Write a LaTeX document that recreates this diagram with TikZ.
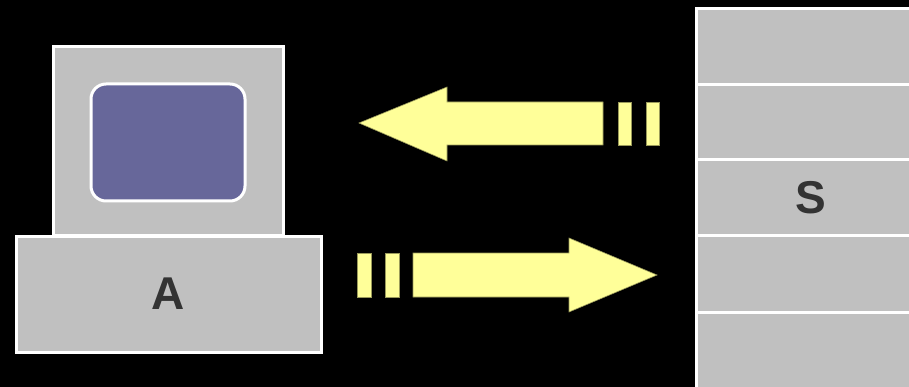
\documentclass[tikz,border=0pt]{standalone}
\usepackage{fontspec}
\setmainfont{Liberation Sans}
\definecolor{boxgrey}{HTML}{C0C0C0}
\definecolor{screenblue}{HTML}{67679A}
\definecolor{arrowyellow}{HTML}{FFFF99}
\definecolor{arrowedge}{HTML}{9A9A5A}
\definecolor{labeltext}{HTML}{333333}
\tikzset{
  greybox/.style={draw=white, line width=3pt, fill=boxgrey, inner sep=0pt},
  screenbox/.style={draw=white, line width=3pt, fill=screenblue, rounded corners=15pt, inner sep=0pt},
  biglabel/.style={font=\fontsize{46}{46}\selectfont\bfseries, text=labeltext},
  blockarrow/.style={fill=arrowyellow, draw=arrowedge, line width=0.6pt},
}
\begin{document}
\begin{tikzpicture}[x=1pt,y=-1pt]
\useasboundingbox (0,0) rectangle (909,387);
\fill[black] (0,0) rectangle (909,387);
% computer
\node[greybox, minimum width=230pt, minimum height=188pt] (monitor) at (168,141) {};
\node[screenbox, minimum width=154pt, minimum height=117pt] (screen) at (168,142.5) {};
\node[greybox, minimum width=305pt, minimum height=116pt] (base) at (168.5,294) {};
\node[biglabel] (labelA) at (base.center) {A};
% server stack
\node[greybox, minimum width=230pt, minimum height=76pt] (s1) at (811,47) {};
\node[greybox, minimum width=230pt, minimum height=75pt] (s2) at (811,122.5) {};
\node[greybox, minimum width=230pt, minimum height=75pt] (s3) at (811,197.5) {};
\node[greybox, minimum width=230pt, minimum height=77pt] (s4) at (811,273.5) {};
\node[greybox, minimum width=230pt, minimum height=76pt] (s5) at (811,350) {};
\node[biglabel] (labelS) at (s3.center) {S};
% upper arrow (server to computer)
\draw[blockarrow] (359,123) -- (447,87) -- (447,102) -- (603,102) -- (603,145) -- (447,145) -- (447,161) -- cycle;
\draw[blockarrow] (618,102) rectangle (631,145);
\draw[blockarrow] (646,102) rectangle (659,145);
% lower arrow (computer to server)
\draw[blockarrow] (657,275) -- (569,238) -- (569,253) -- (413,253) -- (413,297) -- (569,297) -- (569,312) -- cycle;
\draw[blockarrow] (357,253) rectangle (371,297);
\draw[blockarrow] (385,253) rectangle (399,297);
\end{tikzpicture}
\end{document}
